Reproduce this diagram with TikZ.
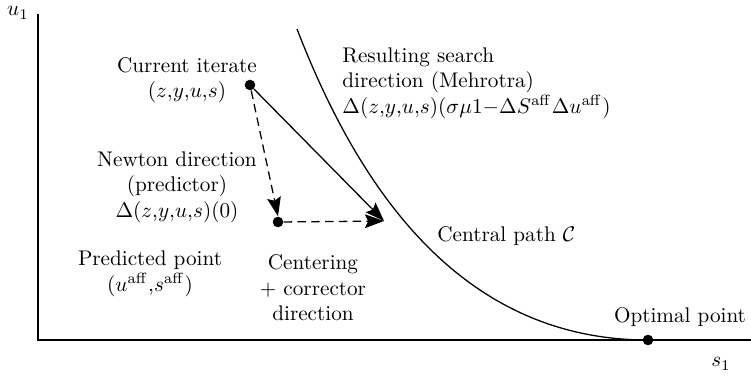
\documentclass[tikz,border=0pt]{standalone}
\usetikzlibrary{arrows.meta}
\begin{document}
\begin{tikzpicture}[x=0.472pt,y=-0.472pt,
  lbl/.style={inner sep=0pt,align=center},
  dotnode/.style={circle,fill=black,inner sep=0pt,minimum size=5pt},
  arr/.style={line width=0.6pt,-{Stealth[length=9pt,width=6.5pt,inset=1.5pt]}},
  dsh/.style={arr,dash pattern=on 4pt off 2.5pt},
  axis/.style={line width=0.6pt}]
\useasboundingbox (0,0) rectangle (751,378);
% axes
\coordinate (top) at (38,14);
\coordinate (orig) at (38,340);
\coordinate (right) at (751,340);
\draw[axis] (top) -- (orig) -- (right);
\node[lbl] (u1) at (18,13) {$u_1$};
\node[lbl] (s1) at (721,364) {$s_1$};
% central path
\coordinate (cstart) at (297,29);
\node[dotnode] (opt) at (648,340) {};
\draw[line width=0.6pt] (cstart) .. controls (355,179) and (455,340) .. (opt.center);
% points
\node[dotnode] (cur) at (250,85) {};
\node[dotnode] (pred) at (278,222) {};
\coordinate (tgt) at (384,221);
\draw[dsh] (cur) -- (pred.north);
\draw[dsh] (pred) -- (tgt);
\draw[arr] (cur) -- (tgt);
% labels
\node[lbl] (curl) at (187,80) {Current iterate\\$(z{,}y{,}u{,}s)$};
\node[lbl,anchor=west,align=left] (res) at (342,83) {Resulting search\\direction (Mehrotra)\\$\Delta(z{,}y{,}u{,}s)(\sigma\mu 1{-}\Delta S^{\mathrm{aff}}\Delta u^{\mathrm{aff}})$};
\node[lbl] (newt) at (177,187) {Newton direction\\(predictor)\\$\Delta(z{,}y{,}u{,}s)(0)$};
\node[lbl] (predl) at (150,274) {Predicted point\\$(u^{\mathrm{aff}}{,}s^{\mathrm{aff}})$};
\node[lbl] (cent) at (313,288) {Centering\\+ corrector\\direction};
\node[lbl,anchor=west] (cpath) at (437,236) {Central path $\mathcal{C}$};
\node[lbl] (optl) at (680,317) {Optimal point};
\end{tikzpicture}
\end{document}
